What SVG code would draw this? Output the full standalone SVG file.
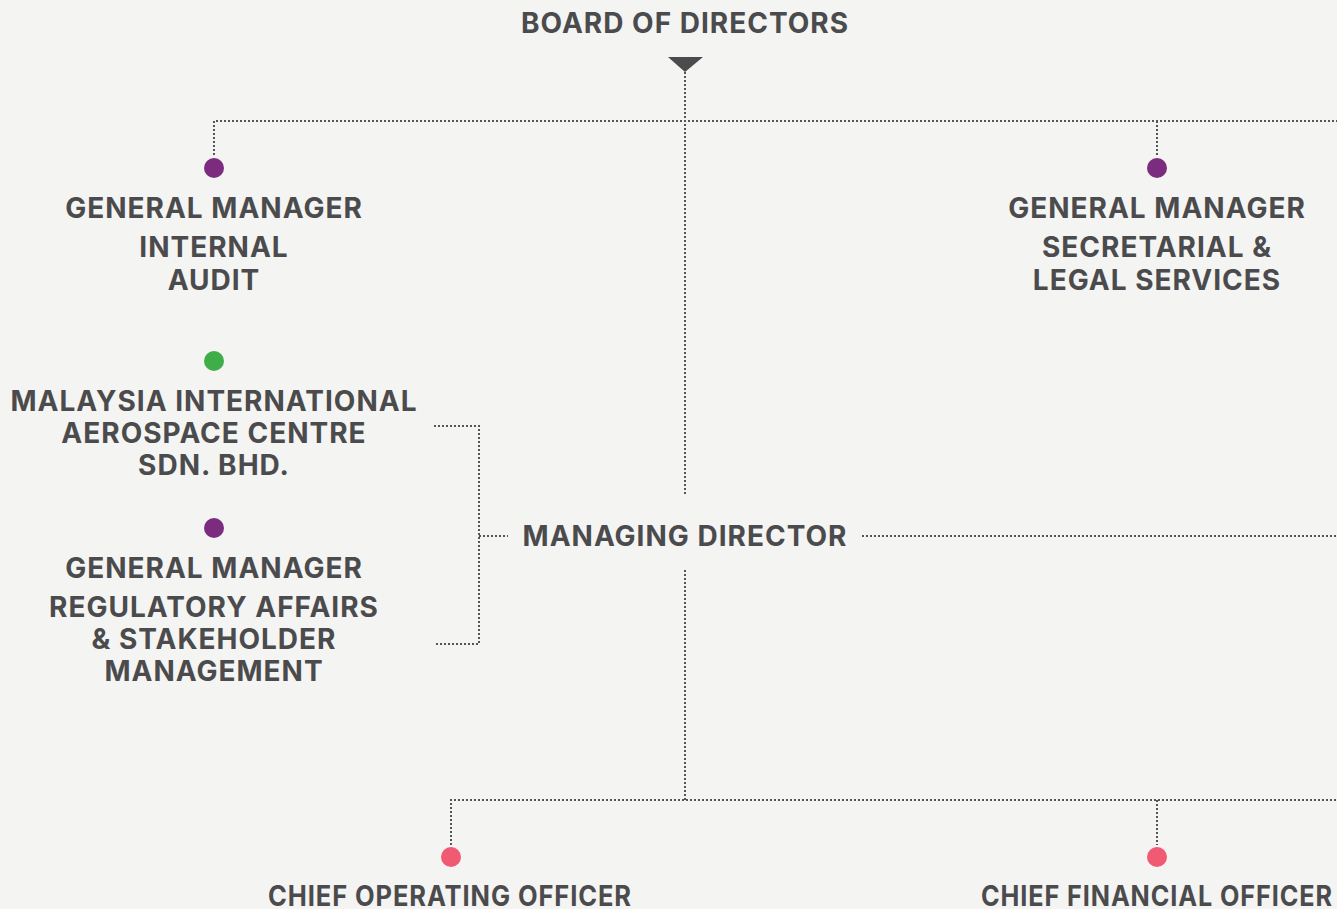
<svg xmlns="http://www.w3.org/2000/svg" width="1337" height="909" viewBox="0 0 1337 909">
<style>
text{font-family:Inter,Roboto,"Liberation Sans",sans-serif;font-weight:700;font-size:28px;letter-spacing:1px;fill:#4b4b4d;text-anchor:middle}
.c{fill:none;stroke:#555;stroke-width:2;stroke-dasharray:2 2}
.p{fill:#7b2c7e}.g{fill:#3fae49}.r{fill:#f05a73}
</style>
<rect width="1337" height="909" fill="#f4f4f2"/>
<g id="connectors">
<polygon points="668,57 703,57 685,72" fill="#4b4b4d"/>
<path class="c" d="M685,72V495"/>
<path class="c" d="M214,155V121H1337M1157,121V155"/>
<path class="c" d="M434,426H479V644H434M479,536H508"/>
<path class="c" d="M862,536H1337"/>
<path class="c" d="M685,570V800M451,845V800H1337M1157,800V845"/>
</g>
<g id="board"><text x="685" y="33">BOARD OF DIRECTORS</text></g>
<g id="gm-audit"><circle class="p" cx="214" cy="168" r="10"/><text x="214" y="218">GENERAL MANAGER</text><text x="214" y="257">INTERNAL</text><text x="214" y="290">AUDIT</text></g>
<g id="gm-legal"><circle class="p" cx="1157" cy="168" r="10"/><text x="1157" y="218">GENERAL MANAGER</text><text x="1157" y="257">SECRETARIAL &amp;</text><text x="1157" y="290">LEGAL SERVICES</text></g>
<g id="miac"><circle class="g" cx="214" cy="361" r="10"/><text x="214" y="411">MALAYSIA INTERNATIONAL</text><text x="214" y="443">AEROSPACE CENTRE</text><text x="214" y="475">SDN. BHD.</text></g>
<g id="gm-reg"><circle class="p" cx="214" cy="528" r="10"/><text x="214" y="578">GENERAL MANAGER</text><text x="214" y="617">REGULATORY AFFAIRS</text><text x="214" y="649">&amp; STAKEHOLDER</text><text x="214" y="681">MANAGEMENT</text></g>
<g id="md"><text x="685" y="546">MANAGING DIRECTOR</text></g>
<g id="coo"><circle class="r" cx="451" cy="857" r="10"/><text x="450" y="906" textLength="364" lengthAdjust="spacingAndGlyphs">CHIEF OPERATING OFFICER</text></g>
<g id="cfo"><circle class="r" cx="1157" cy="857" r="10"/><text x="1157" y="906" textLength="352" lengthAdjust="spacingAndGlyphs">CHIEF FINANCIAL OFFICER</text></g>
</svg>
